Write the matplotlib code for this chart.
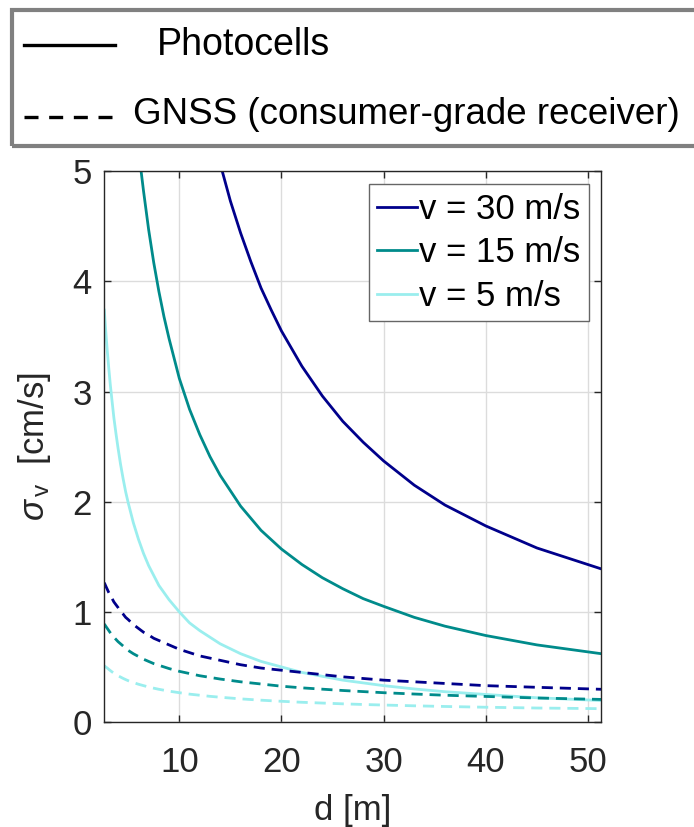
import matplotlib
matplotlib.use("Agg")
import matplotlib.pyplot as plt
from matplotlib.patches import Rectangle
from matplotlib.lines import Line2D

plt.rcParams['font.family'] = ['Liberation Sans', 'DejaVu Sans']
plt.rcParams['mathtext.fontset'] = 'custom'
plt.rcParams['mathtext.rm'] = 'Liberation Sans'
plt.rcParams['mathtext.it'] = 'Liberation Sans:italic'

# distance d [m]
d = [2.66, 2.8, 2.95, 3.1, 3.25, 3.4, 3.6, 3.8, 4, 4.25, 4.5, 4.75, 5, 5.5, 6,
     6.5, 7, 7.5, 8, 9, 10, 11, 12, 13, 14, 16, 18, 20, 22, 24, 26, 28, 30,
     33, 36, 40, 45, 51.3]

# photocells, sigma_v [cm/s]
d_ph30 = [13.5, 14, 14.5, 15, 16, 17, 18, 19, 20, 22, 24, 26, 28, 30, 33, 36,
          40, 45, 51.3]
ph30 = [5.26, 5.07, 4.90, 4.73, 4.44, 4.18, 3.94, 3.74, 3.55, 3.23, 2.96, 2.73,
        2.54, 2.37, 2.15, 1.97, 1.78, 1.58, 1.39]
d_ph15 = [6, 6.25, 6.5, 7, 7.5, 8, 8.5, 9, 10, 11, 12, 13, 14, 16, 18, 20, 22,
          24, 26, 28, 30, 33, 36, 40, 45, 51.3]
ph15 = [5.22, 5.01, 4.82, 4.47, 4.17, 3.91, 3.68, 3.48, 3.12, 2.84, 2.61, 2.41,
        2.24, 1.96, 1.74, 1.57, 1.43, 1.31, 1.21, 1.12, 1.05, 0.95, 0.87, 0.785,
        0.70, 0.62]
ph5 = [3.74, 3.55, 3.37, 3.21, 3.06, 2.93, 2.76, 2.62, 2.49, 2.34, 2.21, 2.09,
       1.99, 1.81, 1.66, 1.53, 1.42, 1.33, 1.24, 1.11, 1.0, 0.90, 0.83, 0.77,
       0.71, 0.62, 0.55, 0.50, 0.45, 0.415, 0.38, 0.355, 0.33, 0.30, 0.275,
       0.25, 0.22, 0.195]

# GNSS, sigma_v [cm/s]
gn30 = [1.265, 1.235, 1.205, 1.175, 1.15, 1.125, 1.09, 1.065, 1.04, 1.005,
        0.98, 0.95, 0.93, 0.885, 0.85, 0.815, 0.79, 0.76, 0.74, 0.70, 0.66,
        0.63, 0.60, 0.58, 0.56, 0.52, 0.49, 0.47, 0.45, 0.43, 0.41, 0.395,
        0.38, 0.365, 0.35, 0.33, 0.315, 0.297]
gn15 = [0.89, 0.87, 0.85, 0.83, 0.81, 0.79, 0.77, 0.75, 0.73, 0.71, 0.69, 0.67,
        0.65, 0.62, 0.595, 0.57, 0.55, 0.53, 0.515, 0.485, 0.46, 0.44, 0.42,
        0.405, 0.39, 0.365, 0.345, 0.325, 0.31, 0.298, 0.286, 0.276, 0.266,
        0.254, 0.243, 0.232, 0.218, 0.205]
gn5 = [0.51, 0.50, 0.49, 0.478, 0.467, 0.456, 0.443, 0.431, 0.42, 0.408, 0.396,
       0.385, 0.375, 0.358, 0.343, 0.33, 0.318, 0.307, 0.297, 0.28, 0.266,
       0.253, 0.243, 0.233, 0.225, 0.21, 0.198, 0.188, 0.179, 0.172, 0.165,
       0.159, 0.154, 0.147, 0.141, 0.134, 0.127, 0.121]

labels = ['v = 30 m/s', 'v = 15 m/s', 'v = 5 m/s']
colors = ['#00008b', '#008b8b', '#9aeeee']

W, H = 694, 827
fig = plt.figure(figsize=(W / 100, H / 100), dpi=100)
ax = fig.add_axes([104.3 / W, 1 - 722 / H, 497 / W, 550.7 / H])

lw = 2.0
ax.plot(d_ph30, ph30, color=colors[0], lw=lw, label=labels[0])
ax.plot(d_ph15, ph15, color=colors[1], lw=lw, label=labels[1])
ax.plot(d, ph5, color=colors[2], lw=lw, label=labels[2])
for y, c in zip([gn30, gn15, gn5], colors):
    ax.plot(d, y, color=c, lw=lw, dashes=(4, 2.5))

ax.set_xlim(2.66, 51.3)
ax.set_ylim(0, 5)
ax.set_xticks([10, 20, 30, 40, 50])
ax.set_yticks([0, 1, 2, 3, 4, 5])
ax.grid(True, color='#dcdcdc', lw=1)
ax.set_axisbelow(True)
ax.tick_params(direction='in', length=5, width=1, colors='#262626',
               labelsize=25, top=True, right=True)
ax.tick_params(axis='x', pad=17)
ax.tick_params(axis='y', pad=9)
for s in ax.spines.values():
    s.set_color('#262626')
    s.set_linewidth(1)

ax.set_xlabel('d [m]', fontsize=25, color='#262626', labelpad=11)
ax.set_ylabel(r'$\sigma_{\,\rm v}$  [cm/s]', fontsize=25, color='#262626',
              labelpad=14)

leg = ax.legend(loc='upper right', bbox_to_anchor=(589 / W, 1 - 184.3 / H),
                bbox_transform=fig.transFigure, borderaxespad=0, fontsize=25,
                handlelength=1.15, handletextpad=0.05, labelspacing=0.3,
                borderpad=0.25, fancybox=False, framealpha=1)
leg.get_frame().set_edgecolor('#666666')
leg.get_frame().set_linewidth(1)


def px(x, y):
    return x / W, 1 - y / H


# outer legend box (photocells vs GNSS)
x0, y0 = px(12, 146)
fig.add_artist(Rectangle((x0, y0), 720 / W, 136 / H, transform=fig.transFigure,
                         fill=False, edgecolor='#808080', lw=3))
fig.add_artist(Line2D([24 / W, 115 / W], [1 - 45 / H] * 2, transform=fig.transFigure,
                      color='black', lw=2.4))
fig.add_artist(Line2D([24 / W, 115 / W], [1 - 117 / H] * 2, transform=fig.transFigure,
                      color='black', lw=2.4, dashes=(4.2, 3.2)))
fig.text(*px(157, 55), 'Photocells', fontsize=27, va='baseline', color='black')
fig.text(*px(133, 124), 'GNSS (consumer-grade receiver)', fontsize=26.5,
         va='baseline', color='black')

fig.savefig('out.png', dpi=100)
